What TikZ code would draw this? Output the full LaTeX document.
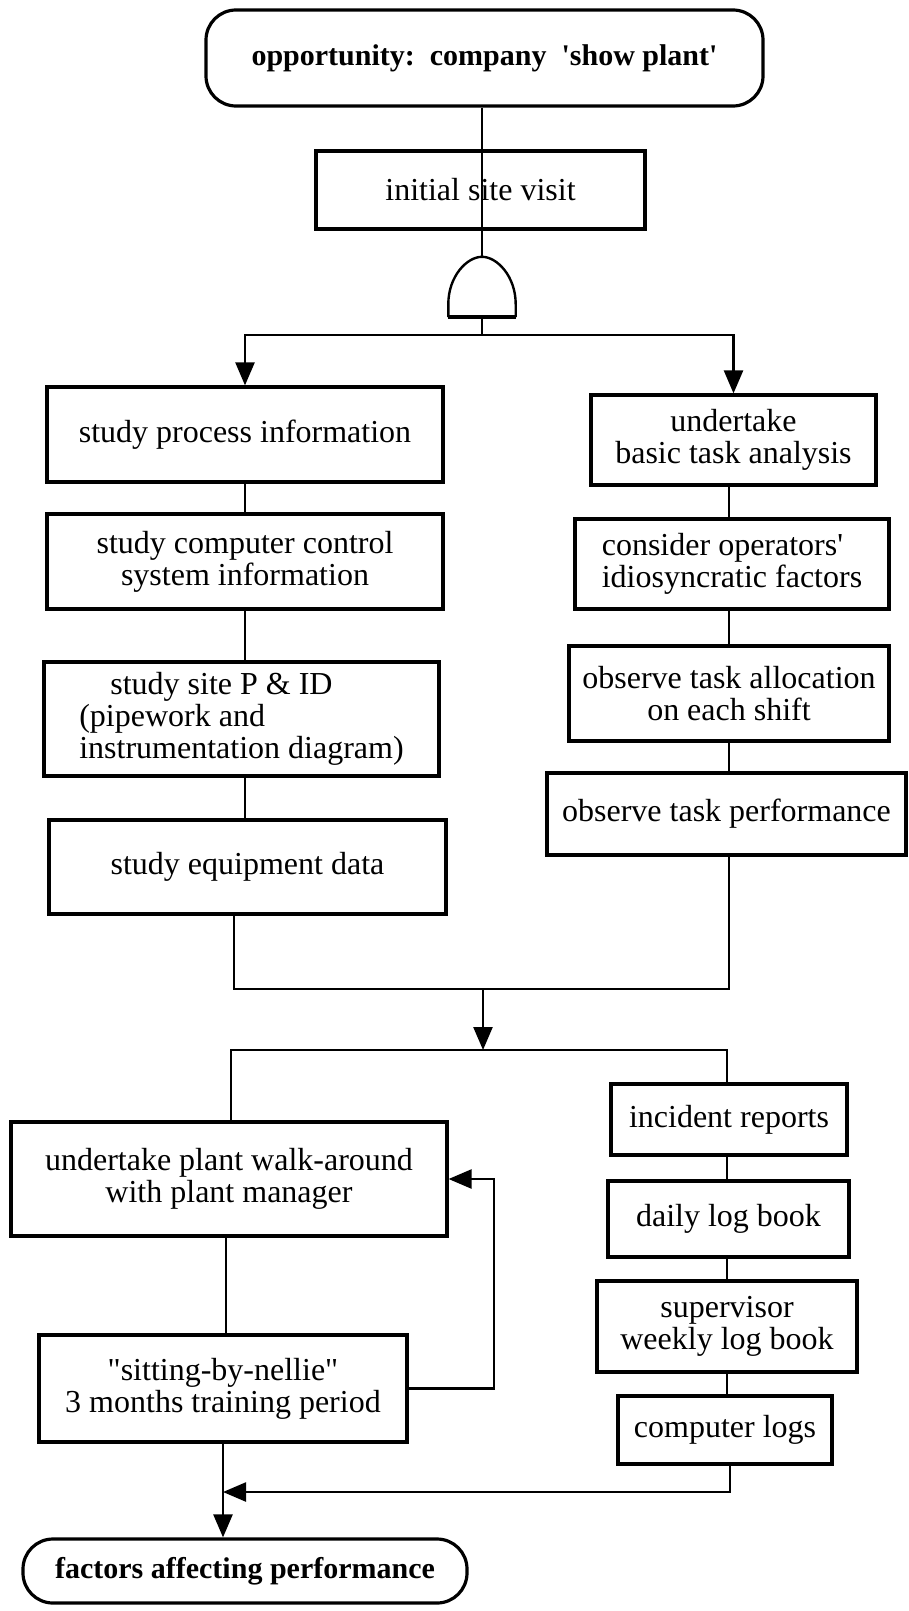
\documentclass[tikz,border=0pt]{standalone}
\usepackage{fontspec}
\setmainfont{Liberation Serif}[Ligatures=TeXOff]
\usetikzlibrary{arrows.meta,calc}

\begin{document}
\begin{tikzpicture}[x=1pt,y=-1pt,
  box/.style={draw, line width=3.2pt, inner sep=0pt, align=center,
              font=\fontsize{32}{32}\selectfont},
  term/.style={box, rounded corners=30pt,
               font=\fontsize{30}{32}\selectfont\bfseries},
  link/.style={line width=2.4pt},
  arr/.style={link, -{Triangle[length=23pt,width=19pt]}},
]
\useasboundingbox (0,0) rectangle (908,1611);

% start and end terminators
\node[term, minimum width=557pt, minimum height=96pt] (top) at (484.5,58)
  {\raisebox{4pt}{opportunity:\ \ company\ \ 'show plant'}};
\node[term, minimum width=444pt, minimum height=64pt] (term) at (245,1571)
  {factors affecting performance};

\node[box, minimum width=329pt, minimum height=78pt] (init) at (480.5,190)
  {initial site visit};

% AND gate
\node[minimum width=67pt, minimum height=60pt, inner sep=0pt] (gate) at (482,287) {};
\draw[link] (gate.south west) -- ++(0,-13)
  .. controls +(0,-28) and +(-15,0) .. (gate.north)
  .. controls +(15,0) and +(0,-28) .. ($(gate.south east)+(0,-13)$)
  -- (gate.south east);
\draw[line width=3.6pt] (gate.south west) -- (gate.south east);

% left branch
\node[box, minimum width=396pt, minimum height=95pt] (proc) at (245,434.5)
  {study process information};
\node[box, minimum width=396pt, minimum height=95pt] (comp) at (245,561.5)
  {study computer control\\system information};
\node[box, minimum width=395pt, minimum height=114pt, align=left] (pid) at (241.5,719)
  {\hspace*{31pt}study site P \& ID\\(pipework and\\instrumentation diagram)};
\node[box, minimum width=397pt, minimum height=94pt] (equip) at (247.5,867)
  {study equipment data};

% right branch
\node[box, minimum width=285pt, minimum height=90pt] (uta) at (733.5,440)
  {undertake\\basic task analysis};
\node[box, minimum width=314pt, minimum height=90pt, align=left] (cons) at (732,564)
  {consider operators'\\idiosyncratic factors};
\node[box, minimum width=320pt, minimum height=95pt] (alloc) at (729,693.5)
  {observe task allocation\\on each shift};
\node[box, minimum width=359pt, minimum height=82pt] (perf) at (726.5,814)
  {observe task performance};

% lower left
\node[box, minimum width=436pt, minimum height=114pt] (walk) at (229,1179)
  {undertake plant walk-around\\with plant manager};
\node[box, minimum width=368pt, minimum height=107pt] (sit) at (223,1388.5)
  {"sitting-by-nellie"\\3 months training period};

% lower right
\node[box, minimum width=236pt, minimum height=71pt] (inc) at (729,1119.5)
  {incident reports};
\node[box, minimum width=241pt, minimum height=76pt] (daily) at (728.5,1219)
  {daily log book};
\node[box, minimum width=260pt, minimum height=91pt] (sup) at (727,1326.5)
  {supervisor\\weekly log book};
\node[box, minimum width=214pt, minimum height=68pt] (clogs) at (725,1430)
  {computer logs};

% junction points
\coordinate (split) at (482,335);
\coordinate (rc) at (729,0);
\coordinate (jl) at (234,989);
\coordinate (jr) at (729,989);
\coordinate (join) at (483,989);
\coordinate (merge) at (483,1050);
\coordinate (ml) at (231,1050);
\coordinate (mr) at (727,1050);
\coordinate (lc) at (226,0);
\coordinate (fb) at (494,1390);
\coordinate (cb) at (730,1492);

% connectors
\draw[link] (gate.north |- top.south) -- (gate.north |- init.south);
\draw[link] (gate.north |- init.south) -- (gate.north);
\draw[link] (gate.south) -- (split);
\draw[arr] (split) -| (proc.north);
\draw[arr] (split) -| (uta.north);

\draw[link] (proc.south) -- (comp.north);
\draw[link] (comp.south) -- (comp.south |- pid.north);
\draw[link] (comp.south |- pid.south) -- (comp.south |- equip.north);

\draw[link] (rc |- uta.south) -- (rc |- cons.north);
\draw[link] (rc |- cons.south) -- (rc |- alloc.north);
\draw[link] (rc |- alloc.south) -- (rc |- perf.north);

\draw[link] (jl |- equip.south) -- (jl) -- (jr) -- (jr |- perf.south);
\draw[arr] (join) -- (merge);
\draw[link] (ml |- walk.north) -- (ml) -- (mr) -- (mr |- inc.north);

\draw[link] (lc |- walk.south) -- (lc |- sit.north);
\draw[arr] (sit.east) -- (fb |- sit.east) -- (fb |- walk.east) -- (walk.east);

\draw[link] (mr |- inc.south) -- (mr |- daily.north);
\draw[link] (mr |- daily.south) -- (mr |- sup.north);
\draw[link] (mr |- sup.south) -- (mr |- clogs.north);

\draw[arr] (sit.south) -- (sit.south |- term.north);
\draw[arr] (cb |- clogs.south) -- (cb) -- (sit.south |- cb);
\end{tikzpicture}
\end{document}
